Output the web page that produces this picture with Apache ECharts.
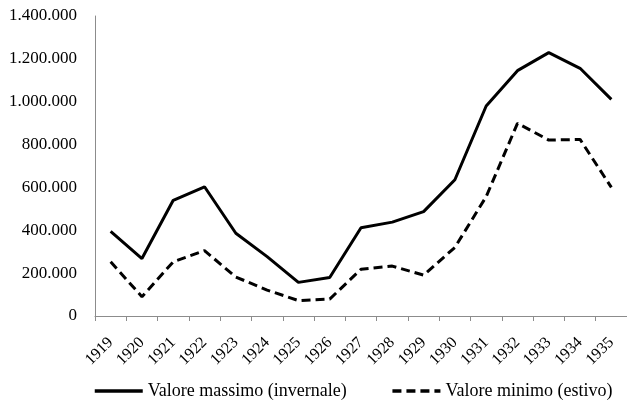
<!DOCTYPE html>
<html>
<head>
<meta charset="utf-8">
<script src="https://cdn.jsdelivr.net/npm/echarts@6/dist/echarts.min.js"></script>
<style>
  html, body { margin: 0; padding: 0; background: #fff; }
  #chart { width: 627px; height: 401px; }
</style>
</head>
<body>
<div id="chart"></div>
<script>
// anni
const years = ['1919', '1920', '1921', '1922', '1923', '1924', '1925', '1926', '1927',
  '1928', '1929', '1930', '1931', '1932', '1933', '1934', '1935']
// valore massimo (invernale)
const maxValues = [395000, 268000, 540000, 603000, 386000, 277000, 157000, 180000, 412000,
  438000, 487000, 636000, 980000, 1145000, 1229000, 1156000, 1011000]
// valore minimo (estivo)
const minValues = [253000, 90000, 253000, 305000, 182000, 121000, 72000, 79000, 218000,
  233000, 191000, 320000, 557000, 899000, 821000, 824000, 600000]
// asse y
const yMin = 0
const yMax = 1400000
const yStep = 200000

const font = '"Liberation Serif", "Times New Roman", serif'

// separatore delle migliaia con il punto
function fmt (v) {
  return String(v).replace(/\B(?=(\d{3})+(?!\d))/g, '.')
}

const chart = echarts.init(document.getElementById('chart'))
chart.setOption({
  animation: false,
  textStyle: { fontFamily: font, color: '#000' },
  grid: { left: 95, right: -5, top: 16, bottom: 85 },
  legend: {
    top: 377,
    left: 88,
    itemWidth: 48,
    itemHeight: 12,
    itemGap: 44,
    itemStyle: { color: 'transparent', borderWidth: 0 },
    lineStyle: { width: 3.5 },
    textStyle: { fontFamily: font, fontSize: 18, color: '#000' },
    data: ['Valore massimo (invernale)', 'Valore minimo (estivo)']
  },
  xAxis: {
    type: 'category',
    data: years,
    boundaryGap: true,
    axisLine: { lineStyle: { color: '#8c8c8c', width: 1 } },
    axisTick: { show: true, length: 5, lineStyle: { color: '#8c8c8c' } },
    axisLabel: { rotate: 45, fontFamily: font, fontSize: 16, color: '#000', margin: 24, interval: 0 }
  },
  yAxis: {
    type: 'value',
    min: yMin,
    max: yMax,
    interval: yStep,
    axisLine: { show: true, lineStyle: { color: '#8c8c8c', width: 1 } },
    axisTick: { show: false },
    splitLine: { show: false },
    axisLabel: {
      fontFamily: font,
      fontSize: 17,
      color: '#000',
      margin: 18,
      formatter: v => fmt(v)
    }
  },
  series: [
    {
      name: 'Valore massimo (invernale)',
      type: 'line',
      data: maxValues,
      symbol: 'none',
      lineStyle: { color: '#000', width: 3 },
      itemStyle: { color: '#000' }
    },
    {
      name: 'Valore minimo (estivo)',
      type: 'line',
      data: minValues,
      symbol: 'none',
      lineStyle: { color: '#000', width: 3, type: [9, 5] },
      itemStyle: { color: '#000' }
    }
  ]
})
</script>
</body>
</html>
